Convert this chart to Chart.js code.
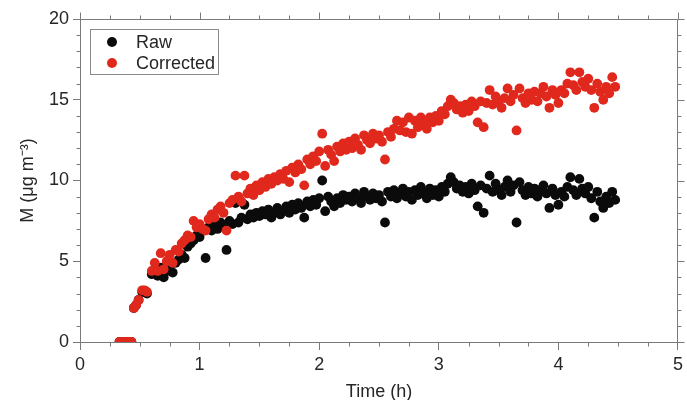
<!DOCTYPE html>
<html>
<head>
<meta charset="utf-8">
<title>M vs time</title>
<script src="https://cdn.jsdelivr.net/npm/chart.js@4/dist/chart.umd.min.js"></script>
<style>
    html, body { margin: 0; padding: 0; background: #fff; }
    #chart-wrap { width: 687px; height: 400px; }
</style>
</head>
<body>
<div id="chart-wrap"><canvas id="mass-chart" width="687" height="400"></canvas></div>
<script>
// Time (h) of each sample.
var times = [
    0.33, 0.35, 0.37, 0.39, 0.41, 0.43, 0.45, 0.47, 0.49, 0.52,
    0.54, 0.56, 0.600, 0.625, 0.650, 0.675, 0.700, 0.725, 0.750, 0.775,
    0.800, 0.825, 0.850, 0.875, 0.900, 0.925, 0.950, 0.975, 1.000, 1.025,
    1.050, 1.075, 1.100, 1.125, 1.150, 1.175, 1.200, 1.225, 1.250, 1.275,
    1.300, 1.325, 1.350, 1.375, 1.400, 1.425, 1.450, 1.475, 1.500, 1.525,
    1.550, 1.575, 1.600, 1.625, 1.650, 1.675, 1.700, 1.725, 1.750, 1.775,
    1.800, 1.825, 1.850, 1.875, 1.900, 1.925, 1.950, 1.975, 2.000, 2.025,
    2.050, 2.075, 2.100, 2.125, 2.150, 2.175, 2.200, 2.225, 2.250, 2.275,
    2.300, 2.325, 2.350, 2.375, 2.400, 2.425, 2.450, 2.475, 2.500, 2.525,
    2.550, 2.575, 2.600, 2.625, 2.650, 2.675, 2.700, 2.725, 2.750, 2.775,
    2.800, 2.825, 2.850, 2.875, 2.900, 2.925, 2.950, 2.975, 3.000, 3.025,
    3.050, 3.075, 3.100, 3.125, 3.150, 3.175, 3.200, 3.225, 3.250, 3.275,
    3.300, 3.325, 3.350, 3.375, 3.400, 3.425, 3.450, 3.475, 3.500, 3.525,
    3.550, 3.575, 3.600, 3.625, 3.650, 3.675, 3.700, 3.725, 3.750, 3.775,
    3.800, 3.825, 3.850, 3.875, 3.900, 3.925, 3.950, 3.975, 4.000, 4.025,
    4.050, 4.075, 4.100, 4.125, 4.150, 4.175, 4.200, 4.225, 4.250, 4.275,
    4.300, 4.325, 4.350, 4.375, 4.400, 4.425, 4.450, 4.475
];

// Raw M (ug m-3).
var rawValues = [
    0, 0, 0, 0, 0, 0, 2.1, 2.3, 2.6, 3.1,
    3.1, 3.0, 4.2, 4.5, 4.1, 4.6, 4.0, 4.4, 4.7, 4.3,
    4.9, 5.1, 5.4, 5.2, 5.9, 6.1, 6.3, 6.6, 6.5, 6.9,
    5.2, 7.1, 6.9, 7.2, 7.0, 7.4, 7.2, 5.7, 7.5, 7.3,
    8.6, 7.4, 7.7, 8.5, 7.6, 7.9, 7.7, 8.0, 7.8, 8.1,
    7.9, 8.2, 7.7, 8.0, 8.3, 7.9, 8.1, 8.4, 8.0, 8.5,
    8.2, 8.6, 8.3, 7.7, 8.7, 8.4, 8.8, 8.5, 8.9, 10.0,
    8.1, 9.0, 8.7, 8.4, 8.9, 8.6, 9.1, 8.8, 9.0, 8.7,
    9.2, 8.9, 8.6, 9.3, 9.0, 8.8, 9.2, 8.9, 9.1, 8.7,
    7.4, 9.3, 9.0, 9.4, 8.9, 9.2, 9.5, 9.0, 9.3, 8.8,
    9.4, 9.1, 9.6, 9.2, 8.9, 9.5, 9.1, 9.4, 9.0, 9.6,
    9.3, 9.8, 10.2, 9.9, 9.5, 9.7, 9.3, 9.6, 9.2, 9.8,
    9.4, 8.4, 9.7, 8.0, 9.5, 10.3, 9.3, 9.8, 9.4, 9.1,
    9.6, 10.0, 9.3, 9.7, 7.4, 9.9, 9.4, 9.1, 9.6, 9.2,
    9.5, 9.0, 9.4, 9.7, 9.2, 8.3, 9.5, 9.1, 8.5, 9.3,
    9.0, 9.6, 10.2, 9.4, 9.1, 10.1, 9.5, 9.2, 9.6, 8.9,
    7.7, 9.3, 8.7, 8.3, 9.0, 8.6, 9.3, 8.8
];

// Corrected M (ug m-3).
var correctedValues = [
    0, 0, 0, 0, 0, 0, 2.1, 2.3, 2.6, 3.2,
    3.2, 3.1, 4.4, 4.9, 4.4, 5.5, 4.5, 5.0, 5.4, 4.9,
    5.7, 5.6, 6.1, 6.3, 6.6, 6.5, 7.5, 7.1, 7.3, 7.0,
    6.9, 7.6, 7.9, 7.7, 8.2, 8.4, 8.0, 6.9, 8.6, 8.8,
    10.3, 9.0, 8.7, 10.3, 9.2, 9.5, 9.1, 9.7, 9.4, 9.9,
    9.6, 10.1, 9.8, 10.2, 10.0, 10.4, 10.1, 10.6, 9.9, 10.8,
    10.5, 11.0, 10.7, 9.7, 11.3, 11.0, 11.5, 11.2, 11.8, 12.9,
    10.9, 11.9, 11.6, 11.2, 12.1, 11.8, 12.3, 11.9, 12.4, 12.0,
    12.6, 12.2, 11.9, 12.8, 12.5, 12.3, 12.9, 12.6, 12.8, 12.4,
    11.3, 13.0, 12.7, 13.2, 13.7, 13.1, 13.6, 13.0, 13.9, 12.9,
    13.7, 13.3, 13.9, 13.5, 13.2, 13.9, 13.6, 14.0, 13.7, 14.3,
    14.1, 14.6, 15.0, 14.8, 14.4, 14.6, 14.2, 14.7, 14.3, 14.9,
    14.6, 13.6, 14.9, 13.3, 14.8, 15.6, 14.7, 15.2, 14.8, 14.5,
    15.1, 15.7, 14.9, 15.3, 13.1, 15.7, 15.1, 14.8, 15.4, 15.0,
    15.5, 14.9, 15.4, 15.8, 15.2, 14.5, 15.6, 15.3, 14.8, 15.6,
    15.4, 16.0, 16.7, 15.9, 15.6, 16.7, 16.1, 15.8, 16.3, 15.6,
    14.5, 16.0, 15.5, 15.0, 15.8, 15.4, 16.4, 15.8
];

var xTicks = [0, 1, 2, 3, 4, 5];
var yTicks = [0, 5, 10, 15, 20];
var seriesNames = ['Raw', 'Corrected'];

var FONT = "'Liberation Sans', Arial, sans-serif";
var AXIS_COLOR = '#7a7a7a';
var TEXT_COLOR = '#262626';
var RAW_COLOR = '#0b0b0b';
var CORR_COLOR = '#e0281d';

/**
 * Pair the times with one series of values.
 */
function toPoints(values) {
    var pts = [];
    for (var i = 0; i < times.length; i++) {
        pts.push({ x: times[i], y: values[i] });
    }
    return pts;
}

/**
 * Top/right frame lines plus the minor ticks and the mirrored major ticks.
 */
var framePlugin = {
    id: 'frame',
    afterDraw: function(chart) {
        var ctx = chart.ctx;
        var area = chart.chartArea;
        var sx = chart.scales.x;
        var sy = chart.scales.y;
        var top = Math.round(area.top) + 0.5;
        var right = Math.round(area.right) - 0.5;
        var bottom = Math.round(area.bottom) + 0.5;
        var left = Math.round(area.left) + 0.5;

        ctx.save();
        ctx.strokeStyle = AXIS_COLOR;
        ctx.lineWidth = 1;
        ctx.beginPath();
        ctx.moveTo(left, top);
        ctx.lineTo(right, top);
        ctx.lineTo(right, bottom);

        // x: minor every 0.25 h.
        for (var k = 0; k <= 20; k++) {
            var px = Math.round(sx.getPixelForValue(k * 0.25)) + 0.5;
            var major = (k % 4 === 0);
            if (!major) {
                ctx.moveTo(px, bottom);
                ctx.lineTo(px, bottom + 4);
            }
            ctx.moveTo(px, top);
            ctx.lineTo(px, top - (major ? 7 : 4));
        }

        // y: minor every 1 unit.
        for (var j = 0; j <= 20; j++) {
            var py = Math.round(sy.getPixelForValue(j)) + 0.5;
            var majorY = (j % 5 === 0);
            if (!majorY) {
                ctx.moveTo(left, py);
                ctx.lineTo(left - 4, py);
            }
            ctx.moveTo(right, py);
            ctx.lineTo(right + (majorY ? 7 : 4), py);
        }
        ctx.stroke();
        ctx.restore();
    }
};

/**
 * Boxed legend in the top left corner of the plot.
 */
var legendBoxPlugin = {
    id: 'legendBox',
    afterDraw: function(chart) {
        var ctx = chart.ctx;
        var colors = [RAW_COLOR, CORR_COLOR];

        ctx.save();
        ctx.fillStyle = '#fff';
        ctx.fillRect(90.5, 29.5, 128, 45);
        ctx.strokeStyle = '#8a8a8a';
        ctx.lineWidth = 1;
        ctx.strokeRect(90.5, 29.5, 128, 45);

        ctx.font = '18px ' + FONT;
        ctx.textBaseline = 'middle';
        ctx.textAlign = 'left';
        for (var i = 0; i < seriesNames.length; i++) {
            var cy = 42 + i * 21;
            ctx.fillStyle = colors[i];
            ctx.beginPath();
            ctx.arc(112, cy, 5, 0, Math.PI * 2);
            ctx.fill();
            ctx.fillStyle = TEXT_COLOR;
            ctx.fillText(seriesNames[i], 136, cy + 1);
        }
        ctx.restore();
    }
};

var canvas = document.getElementById('mass-chart');
new Chart(canvas.getContext('2d'), {
    type: 'scatter',
    data: {
        datasets: [
            {
                label: seriesNames[0],
                data: toPoints(rawValues),
                backgroundColor: RAW_COLOR,
                borderWidth: 0,
                pointRadius: 4.9,
                pointHoverRadius: 4.9,
                order: 2
            },
            {
                label: seriesNames[1],
                data: toPoints(correctedValues),
                backgroundColor: CORR_COLOR,
                borderWidth: 0,
                pointRadius: 4.9,
                pointHoverRadius: 4.9,
                order: 1
            }
        ]
    },
    options: {
        responsive: false,
        animation: false,
        layout: {
            padding: { top: 19, right: 4, left: 0, bottom: 0 }
        },
        plugins: {
            legend: { display: false },
            tooltip: { enabled: false }
        },
        scales: {
            x: {
                type: 'linear',
                min: 0,
                max: 5,
                afterBuildTicks: function(scale) {
                    scale.ticks = xTicks.map(function(v) { return { value: v }; });
                },
                afterFit: function(scale) { scale.height = 58; },
                grid: { drawOnChartArea: false, tickLength: 8, color: AXIS_COLOR },
                border: { color: AXIS_COLOR },
                ticks: { color: TEXT_COLOR, font: { family: FONT, size: 18 }, padding: 4, maxRotation: 0 },
                title: {
                    display: true,
                    text: 'Time (h)',
                    color: TEXT_COLOR,
                    font: { family: FONT, size: 18 },
                    padding: { top: 0, bottom: -3 }
                }
            },
            y: {
                type: 'linear',
                min: 0,
                max: 20,
                afterBuildTicks: function(scale) {
                    scale.ticks = yTicks.map(function(v) { return { value: v }; });
                },
                afterFit: function(scale) { scale.width = 80; },
                grid: { drawOnChartArea: false, tickLength: 7, color: AXIS_COLOR },
                border: { color: AXIS_COLOR },
                ticks: { color: TEXT_COLOR, font: { family: FONT, size: 18 }, padding: 4 },
                title: {
                    display: true,
                    text: 'M (\u03bcg m\u207b\u00b3)',
                    color: TEXT_COLOR,
                    font: { family: FONT, size: 18 },
                    padding: { top: 17, bottom: 0 }
                }
            }
        }
    },
    plugins: [framePlugin, legendBoxPlugin]
});
</script>
</body>
</html>
